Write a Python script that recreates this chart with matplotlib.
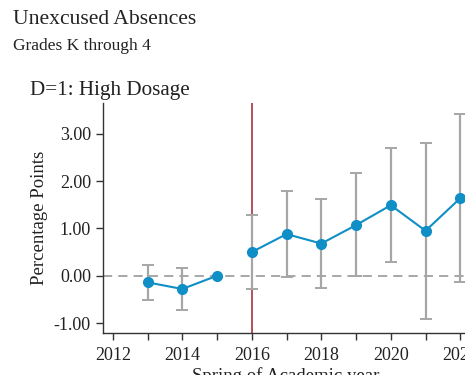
import matplotlib
matplotlib.use("Agg")
import matplotlib.pyplot as plt
from matplotlib.ticker import MultipleLocator, FormatStrFormatter

years = [2013, 2014, 2015, 2016, 2017, 2018, 2019, 2020, 2021, 2022]
estimate = [-0.14, -0.28, 0.00, 0.50, 0.88, 0.68, 1.07, 1.49, 0.95, 1.64]
ci_low = [-0.51, -0.72, 0.00, -0.27, -0.02, -0.25, -0.01, 0.29, -0.92, -0.13]
ci_high = [0.23, 0.17, 0.00, 1.28, 1.79, 1.63, 2.18, 2.70, 2.81, 3.41]
treatment_year = 2016

plt.rcParams['font.family'] = ['Liberation Serif', 'DejaVu Serif']

fig = plt.figure(figsize=(4.65, 3.75), dpi=100)
W, H = 465, 375
ax = fig.add_axes([102.7 / W, 1 - 333 / H, (469 - 102.7) / W, (333 - 103) / H])

grey = '#a6a6a6'
blue = '#0f8fc6'

# confidence intervals (skip the reference year with no interval)
for x, lo, hi in zip(years, ci_low, ci_high):
    if hi - lo > 0:
        ax.errorbar([x], [(lo + hi) / 2], yerr=[[(hi - lo) / 2], [(hi - lo) / 2]],
                    fmt='none', ecolor=grey, elinewidth=1.6, capsize=4.5, capthick=1.4,
                    zorder=2)

ax.axhline(0, color='#8f8f8f', lw=1.1, ls=(0, (6, 4)), zorder=1)
ax.axvline(treatment_year, color='#b4505a', lw=1.4, zorder=1.5)

pre = [i for i, y in enumerate(years) if y < treatment_year]
post = [i for i, y in enumerate(years) if y >= treatment_year]
for idx in (pre, post):
    ax.plot([years[i] for i in idx], [estimate[i] for i in idx], color=blue,
            lw=1.5, marker='o', ms=7, zorder=3)

ax.set_xlim(2011.71, 2022.25)
ax.set_ylim(-1.21, 3.65)
ax.xaxis.set_major_locator(MultipleLocator(2))
ax.xaxis.set_minor_locator(MultipleLocator(1))
ax.yaxis.set_major_locator(MultipleLocator(1))
ax.yaxis.set_major_formatter(FormatStrFormatter('%.2f'))

for s in ('top', 'right'):
    ax.spines[s].set_visible(False)
for s in ('left', 'bottom'):
    ax.spines[s].set_color('#333333')
    ax.spines[s].set_linewidth(1.0)
ax.tick_params(which='both', direction='out', length=5, width=1.0, color='#333333',
               labelsize=13, colors='#222222')
ax.tick_params(axis='x', which='minor', length=5)
ax.tick_params(axis='x', pad=5)

ax.set_xlabel('Spring of Academic year', fontsize=13.5, color='#222222', labelpad=2)
ax.set_ylabel('Percentage Points', fontsize=13.5, color='#222222', labelpad=4)

fig.text(13 / W, 1 - 19 / H, 'Unexcused Absences', fontsize=15.6, va='center',
         ha='left', color='#222222')
fig.text(13 / W, 1 - 46 / H, 'Grades K through 4', fontsize=12.5, va='center',
         ha='left', color='#222222')
fig.text(30 / W, 1 - 90 / H, 'D=1: High Dosage', fontsize=15.2, va='center',
         ha='left', color='#222222')

fig.savefig('out.png', dpi=100)
